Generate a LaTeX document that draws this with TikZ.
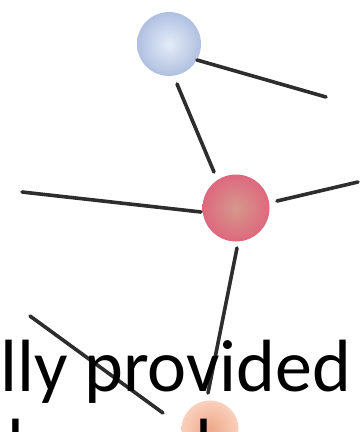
\documentclass[tikz,border=0pt]{standalone}
\usepackage{fontspec}
\setmainfont{Carlito}
\definecolor{blueIn}{RGB}{228,236,248}
\definecolor{blueOut}{RGB}{176,192,224}
\definecolor{redIn}{RGB}{212,152,140}
\definecolor{redOut}{RGB}{222,104,126}
\definecolor{orIn}{RGB}{238,168,138}
\definecolor{orOut}{RGB}{250,208,188}
\definecolor{edgegray}{RGB}{45,45,45}
\tikzset{
  edgeline/.style={line width=3.6pt, draw=edgegray, line cap=round},
  sphere/.style={circle, inner sep=0pt, draw=none},
  bigtext/.style={anchor=base west, inner sep=0pt, font=\fontsize{74}{80}\selectfont}
}
\begin{document}
\begin{tikzpicture}[x=1pt,y=-1pt]
\useasboundingbox (0,0) rectangle (362,432);
\clip (0,0) rectangle (362,432);
\fill[white] (0,0) rectangle (362,432);
% spheres
\node[sphere, minimum size=64pt, inner color=blueIn, outer color=blueOut] (blue) at (169,44) {};
\node[sphere, minimum size=67pt, inner color=redIn, outer color=redOut] (red) at (236,208) {};
\node[sphere, minimum size=57pt, inner color=orIn, outer color=orOut] (orange) at (210,429) {};
% connector ends
\coordinate (b1) at (197,60);
\coordinate (e1) at (326,97);
\coordinate (b2) at (177,84);
\coordinate (r2) at (214,172);
\coordinate (e3) at (22,192);
\coordinate (r3) at (201,212);
\coordinate (r4) at (277,201);
\coordinate (e4) at (358,182);
\coordinate (r5) at (237,248);
\coordinate (o5) at (208,393);
\coordinate (e6) at (30,316);
\coordinate (o6) at (163,413);
\draw[edgeline] (b1) -- (e1);
\draw[edgeline] (b2) -- (r2);
\draw[edgeline] (e3) -- (r3);
\draw[edgeline] (r4) -- (e4);
\draw[edgeline] (r5) -- (o5);
\draw[edgeline] (e6) -- (o6);
% text
\node[bigtext] (t1) at (0,391) {lly provided};
\node[bigtext] (t2) at (7,470) {by nodes};
\end{tikzpicture}
\end{document}
